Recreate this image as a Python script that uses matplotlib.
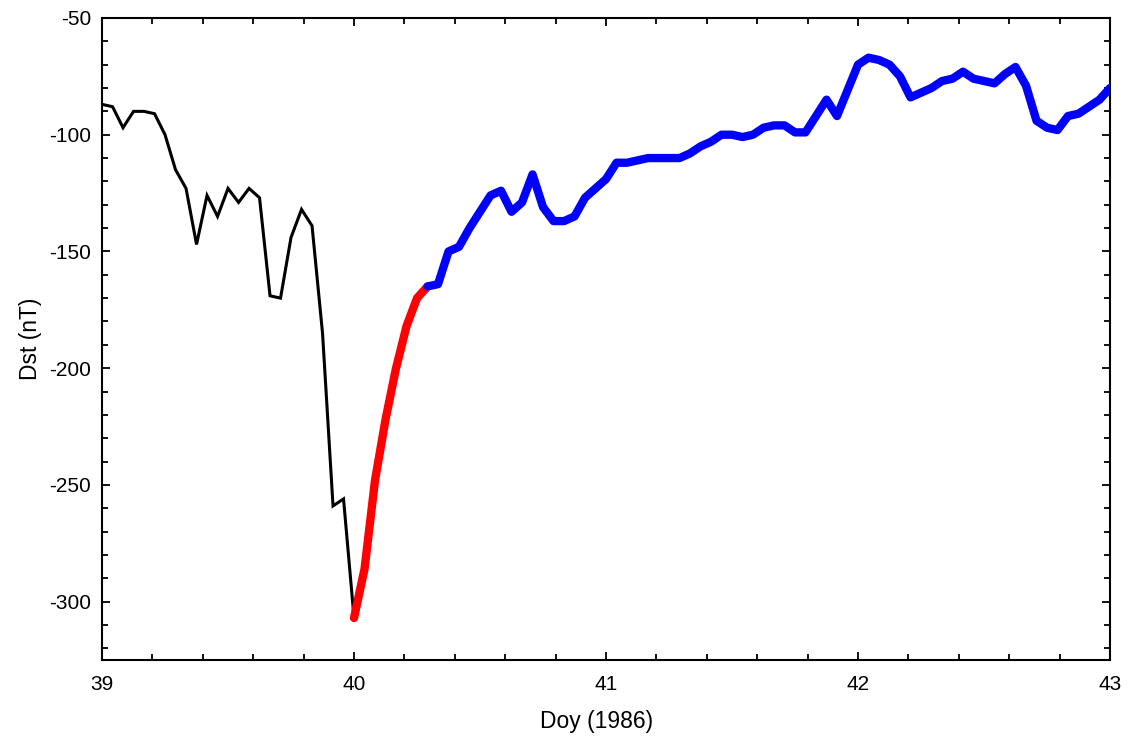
import numpy as np
import matplotlib
matplotlib.use("Agg")
import matplotlib.pyplot as plt
from matplotlib.ticker import MultipleLocator

plt.rcParams['font.family'] = ['Liberation Sans', 'DejaVu Sans']
plt.rcParams['axes.unicode_minus'] = False

# Hourly Dst, 1986 day-of-year 39.0 .. 43.0
t_start = 39.0
dst_main = [-87, -88, -97, -90, -90, -91, -100, -115, -123, -147, -126, -135,
            -123, -129, -123, -127, -169, -170, -144, -132, -139, -185, -259,
            -256, -307]
dst_fast = [-307, -286, -248, -222, -200, -182, -170, -165]
dst_slow = [-165, -164, -150, -148, -140, -133, -126, -124, -133, -129, -117,
            -131, -137, -137, -135, -127, -123, -119, -112, -112, -111, -110,
            -110, -110, -110, -108, -105, -103, -100, -100, -101, -100, -97,
            -96, -96, -99, -99, -92, -85, -92, -81, -70, -67, -68, -70, -75,
            -84, -82, -80, -77, -76, -73, -76, -77, -78, -74, -71, -79, -94,
            -97, -98, -92, -91, -88, -85, -80]

hour = 1.0 / 24.0
t_main = t_start + hour * np.arange(len(dst_main))
i_fast = len(dst_main) - 1
t_fast = t_start + hour * (i_fast + np.arange(len(dst_fast)))
i_slow = i_fast + len(dst_fast) - 1
t_slow = t_start + hour * (i_slow + np.arange(len(dst_slow)))

fig = plt.figure(figsize=(11.3, 7.4), dpi=100)
ax = fig.add_axes([0.0903, 0.1081, 0.8920, 0.8676])

ax.plot(t_main, dst_main, color='black', lw=2.2, solid_joinstyle='miter', zorder=2)
ax.plot(t_fast, dst_fast, color='#ff0000', lw=6, solid_capstyle='round', zorder=3)
ax.plot(t_slow, dst_slow, color='#0000ff', lw=6, solid_capstyle='round', zorder=4)

ax.set_xlim(39, 43)
ax.set_ylim(-325, -50)
ax.xaxis.set_major_locator(MultipleLocator(1))
ax.xaxis.set_minor_locator(MultipleLocator(0.2))
ax.yaxis.set_major_locator(MultipleLocator(50))
ax.yaxis.set_minor_locator(MultipleLocator(10))
ax.tick_params(which='both', direction='in', top=True, right=True,
               width=1.3, labelsize=15, colors='black')
ax.tick_params(which='major', length=6)
ax.tick_params(which='minor', length=4)
ax.tick_params(axis='x', which='major', pad=11)
ax.tick_params(axis='y', which='major', pad=8)
for s in ax.spines.values():
    s.set_linewidth(1.5)

ax.set_xlabel('Doy (1986)', fontsize=16.5)
ax.set_ylabel('Dst (nT)', fontsize=16.5)
ax.xaxis.set_label_coords(0.491, -0.078)
ax.yaxis.set_label_coords(-0.06, 0.5)

fig.savefig('out.png', dpi=100)
